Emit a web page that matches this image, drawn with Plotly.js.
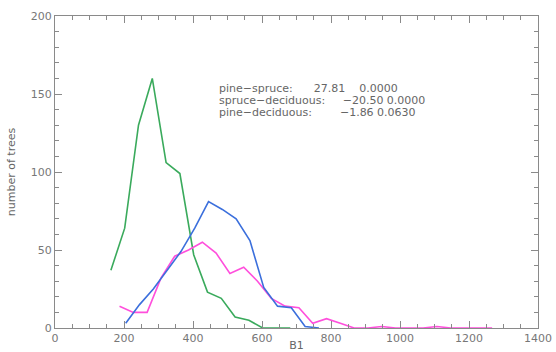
<!DOCTYPE html>
<html>
<head>
<meta charset="utf-8">
<script src="https://cdn.plot.ly/plotly-3.0.1.min.js"></script>
<style>html,body{margin:0;padding:0;background:#fff;}#chart{width:556px;height:352px;}</style>
</head>
<body>
<div id="chart"></div>
<script>
// green series
const greenX = [162, 202, 242, 282, 322, 362, 402, 442, 482, 522, 562, 602, 642, 682];
const greenY = [37, 64, 130, 160, 106, 99, 47, 23, 19, 7, 5, 0, 0, 0];
// blue series
const blueX = [205, 245, 285, 325, 365, 405, 445, 485, 525, 565, 605, 645, 685, 725, 765];
const blueY = [3, 15, 25, 37, 49, 64, 81, 76, 70, 56, 26, 14, 13, 1, 0];
// pink series
const pinkX = [187, 227, 267, 307, 347, 387, 427, 467, 507, 547, 587, 627, 667, 707, 747, 787, 827, 867, 907, 947, 987, 1027, 1067, 1107, 1147, 1187, 1227, 1267];
const pinkY = [14, 10, 10, 32, 46, 50, 55, 48, 35, 39, 30, 19, 14, 13, 3, 6, 3, 0, 0, 1, 0, 0, 0, 1, 0, 0, 0, 0];
// annotation lines
const statLabels = ["pine\u2212spruce:", "spruce\u2212deciduous:", "pine\u2212deciduous:"];
const statT = ["27.81", "\u221220.50", "\u22121.86"];
const statP = ["0.0000", "0.0000", "0.0630"];
const xTicks = [0, 200, 400, 600, 800, 1000, 1200, 1400];
const yTicks = [0, 50, 100, 150, 200];

const lineW = 1.6;
const traces = [
  {x: greenX, y: greenY, mode: 'lines', line: {color: '#3aaa5c', width: lineW}},
  {x: pinkX, y: pinkY, mode: 'lines', line: {color: '#ff4fdc', width: lineW}},
  {x: blueX, y: blueY, mode: 'lines', line: {color: '#3b6fdc', width: lineW}}
];

const nb = n => '\u00a0'.repeat(n);
const gap1 = [6, 5, 8];
const gap2 = [4, 1, 1];
const annY = [0.7676, 0.7292, 0.6907];
const annotations = statLabels.map((s, i) => ({
  xref: 'paper', yref: 'paper', x: 0.338, y: annY[i],
  xanchor: 'left', yanchor: 'middle', showarrow: false, borderpad: 0,
  text: s + nb(gap1[i]) + statT[i] + nb(gap2[i]) + statP[i],
  font: {family: 'DejaVu Sans', size: 11, color: '#666'}
}));

const axisCommon = {
  showgrid: false, zeroline: false, showline: true, linecolor: '#8a8a8a', linewidth: 1,
  mirror: 'ticks', ticks: 'inside', ticklen: 7, tickcolor: '#8a8a8a', tickwidth: 1,
  tickfont: {family: 'DejaVu Sans', size: 11, color: '#777'}
};

const layout = {
  width: 556, height: 352,
  margin: {l: 55, r: 18, t: 16, b: 24},
  paper_bgcolor: '#fff', plot_bgcolor: '#fff',
  showlegend: false,
  font: {family: 'DejaVu Sans', color: '#666'},
  xaxis: Object.assign({}, axisCommon, {
    range: [0, 1400], tickvals: xTicks, ticktext: xTicks.map(String),
    minor: {dtick: 50, ticks: 'inside', ticklen: 4, tickcolor: '#8a8a8a'},
    title: {text: 'B1', font: {family: 'DejaVu Sans', size: 11, color: '#666'}, standoff: 0}
  }),
  yaxis: Object.assign({}, axisCommon, {
    range: [0, 200], tickvals: yTicks, ticktext: yTicks.map(String),
    minor: {dtick: 10, ticks: 'inside', ticklen: 4, tickcolor: '#8a8a8a'},
    title: {text: 'number of trees', font: {family: 'DejaVu Sans', size: 11, color: '#666'}, standoff: 12}
  }),
  annotations: annotations
};

Plotly.newPlot('chart', traces, layout, {staticPlot: true});
</script>
</body>
</html>
